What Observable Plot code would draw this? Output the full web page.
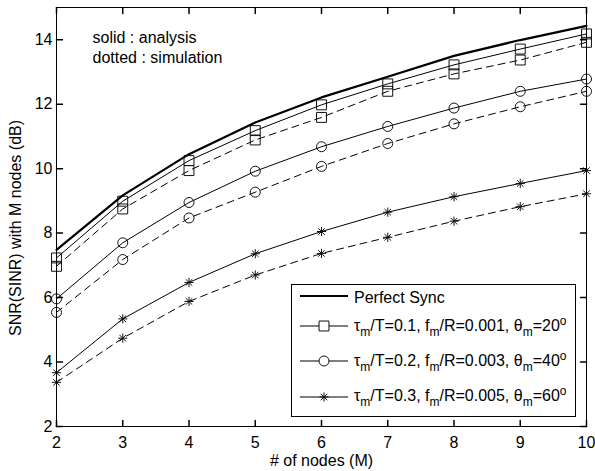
<!DOCTYPE html>
<html><head><meta charset="utf-8">
<script src="https://cdn.jsdelivr.net/npm/d3@7"></script>
<script src="https://cdn.jsdelivr.net/npm/@observablehq/plot@0.6"></script>
<style>body{margin:0;background:#fff} svg{display:block}</style>
</head><body><div id="chart"></div>
<script>
// ---- data ----
const nodes = [2, 3, 4, 5, 6, 7, 8, 9, 10];
const perfectSync = [7.48, 9.17, 10.45, 11.43, 12.21, 12.85, 13.50, 13.99, 14.43];
const case1Analysis = [7.23, 8.99, 10.25, 11.18, 11.98, 12.63, 13.22, 13.71, 14.18];
const case1Sim      = [6.97, 8.75, 9.94, 10.89, 11.59, 12.40, 12.94, 13.37, 13.92];
const case2Analysis = [5.96, 7.70, 8.95, 9.92, 10.68, 11.31, 11.88, 12.40, 12.78];
const case2Sim      = [5.54, 7.18, 8.47, 9.27, 10.07, 10.78, 11.39, 11.92, 12.40];
const case3Analysis = [3.67, 5.34, 6.47, 7.36, 8.05, 8.65, 9.13, 9.54, 9.94];
const case3Sim      = [3.37, 4.74, 5.88, 6.70, 7.37, 7.87, 8.37, 8.82, 9.22];
const xTicks = [2, 3, 4, 5, 6, 7, 8, 9, 10];
const yTicks = [2, 4, 6, 8, 10, 12, 14];
const xLabel = "# of nodes (M)";
const yLabel = "SNR(SINR) with M nodes (dB)";
const noteLines = ["solid : analysis", "dotted : simulation"];
const legendParams = [
  {tau: "0.1", f: "0.001", theta: "20"},
  {tau: "0.2", f: "0.003", theta: "40"},
  {tau: "0.3", f: "0.005", theta: "60"}
];

const toRows = (vals) => nodes.map((n, i) => ({n, v: vals[i]}));

const starSymbol = {
  draw(ctx, size) {
    const r = Math.sqrt(size / Math.PI);
    const d = r * 0.7071;
    ctx.moveTo(-r, 0); ctx.lineTo(r, 0);
    ctx.moveTo(0, -r); ctx.lineTo(0, r);
    ctx.moveTo(-d, -d); ctx.lineTo(d, d);
    ctx.moveTo(-d, d); ctx.lineTo(d, -d);
  }
};
const tickShape = {draw(ctx, l) { ctx.moveTo(0, 0); ctx.lineTo(0, -l); }};

const dash = "7,5";
const font = "'Liberation Sans', Arial, Helvetica, sans-serif";

const series = [
  {vals: case1Analysis, dashed: false, symbol: "square", r: 5.6},
  {vals: case1Sim, dashed: true, symbol: "square", r: 5.6},
  {vals: case2Analysis, dashed: false, symbol: "circle", r: 5},
  {vals: case2Sim, dashed: true, symbol: "circle", r: 5},
  {vals: case3Analysis, dashed: false, symbol: starSymbol, r: 4.6},
  {vals: case3Sim, dashed: true, symbol: starSymbol, r: 4.6}
];

const marks = [];
for (const s of series) {
  marks.push(Plot.line(toRows(s.vals), {x: "n", y: "v", stroke: "#000", strokeWidth: 1,
    strokeDasharray: s.dashed ? dash : null}));
}
for (const s of series) {
  marks.push(Plot.dot(toRows(s.vals), {x: "n", y: "v", symbol: s.symbol, r: s.r,
    stroke: "#111", fill: "none", strokeWidth: 1}));
}
marks.push(Plot.line(toRows(perfectSync), {x: "n", y: "v", stroke: "#000", strokeWidth: 2.2}));

const chart = Plot.plot({
  width: 595, height: 471,
  marginLeft: 56, marginRight: 9, marginTop: 7, marginBottom: 45,
  style: {fontFamily: font, fontSize: "16px", background: "#fff", color: "#000"},
  x: {domain: [2, 10]},
  y: {domain: [2, 15]},
  marks: [
    ...marks,
    Plot.frame({stroke: "#000", strokeWidth: 1}),
    Plot.axisX({ticks: xTicks, tickSize: 0, tickPadding: 10, label: null, fontSize: 16}),
    Plot.axisY({ticks: yTicks, tickSize: 0, tickPadding: 4, label: null, fontSize: 16}),
    Plot.vector(xTicks, {x: d => d, frameAnchor: "bottom", length: 6, rotate: 0, anchor: "start", shape: tickShape, stroke: "#000"}),
    Plot.vector(xTicks, {x: d => d, frameAnchor: "top", length: 6, rotate: 180, anchor: "start", shape: tickShape, stroke: "#000"}),
    Plot.vector(yTicks, {y: d => d, frameAnchor: "left", length: 6, rotate: 90, anchor: "start", shape: tickShape, stroke: "#000"}),
    Plot.vector(yTicks, {y: d => d, frameAnchor: "right", length: 6, rotate: -90, anchor: "start", shape: tickShape, stroke: "#000"}),
    Plot.text([xLabel], {frameAnchor: "bottom", dy: 34, lineAnchor: "middle", textAnchor: "middle", fontSize: 16}),
    Plot.text([yLabel], {frameAnchor: "left", rotate: -90, dx: -41, dy: 11, lineAnchor: "middle", textAnchor: "middle", fontSize: 16}),
    Plot.text([noteLines.join("\n")], {frameAnchor: "top-left", dx: 36, dy: 21, lineAnchor: "top", lineHeight: 1.25, textAnchor: "start", fontSize: 16})
  ]
});
document.getElementById("chart").append(chart);

// ---- legend ----
const svg = d3.select(chart);
const lg = svg.append("g").attr("font-family", font).attr("font-size", 16).attr("fill", "#000")
  .attr("text-anchor", "start");
lg.append("rect").attr("x", 291.5).attr("y", 284.5).attr("width", 284).attr("height", 132)
  .attr("fill", "#fff").attr("stroke", "#000").attr("stroke-width", 1);
const rowY = [296, 326, 361, 397];
const baseY = [302.5, 330.5, 365.5, 401];
const symPaths = [d3.symbolSquare, d3.symbolCircle, starSymbol];
const symSizes = [Math.PI * 5.6 * 5.6, Math.PI * 5 * 5, Math.PI * 4.6 * 4.6];
// Perfect Sync row
lg.append("line").attr("x1", 300).attr("x2", 348).attr("y1", rowY[0]).attr("y2", rowY[0])
  .attr("stroke", "#000").attr("stroke-width", 2.2);
lg.append("text").attr("x", 354).attr("y", baseY[0]).attr("text-anchor", "start").text("Perfect Sync");
legendParams.forEach((p, i) => {
  const y = rowY[i + 1];
  lg.append("line").attr("x1", 300).attr("x2", 348).attr("y1", y).attr("y2", y)
    .attr("stroke", "#000").attr("stroke-width", 1);
  lg.append("path").attr("transform", `translate(324,${y})`)
    .attr("d", d3.symbol(symPaths[i], symSizes[i])())
    .attr("fill", i === 2 ? "none" : "#fff").attr("stroke", "#111");
  const t = lg.append("text").attr("x", 354).attr("y", baseY[i + 1]).attr("text-anchor", "start");
  const sub = (s) => { t.append("tspan").attr("dy", 5).attr("font-size", 12).text(s); };
  const back = (s) => { t.append("tspan").attr("dy", -5).text(s); };
  t.append("tspan").text("τ");
  sub("m");
  back(`/T=${p.tau}, f`);
  sub("m");
  back(`/R=${p.f}, θ`);
  sub("m");
  back(`=${p.theta}`);
  t.append("tspan").attr("dy", -6).attr("font-size", 12).text("o");
});
</script></body></html>
